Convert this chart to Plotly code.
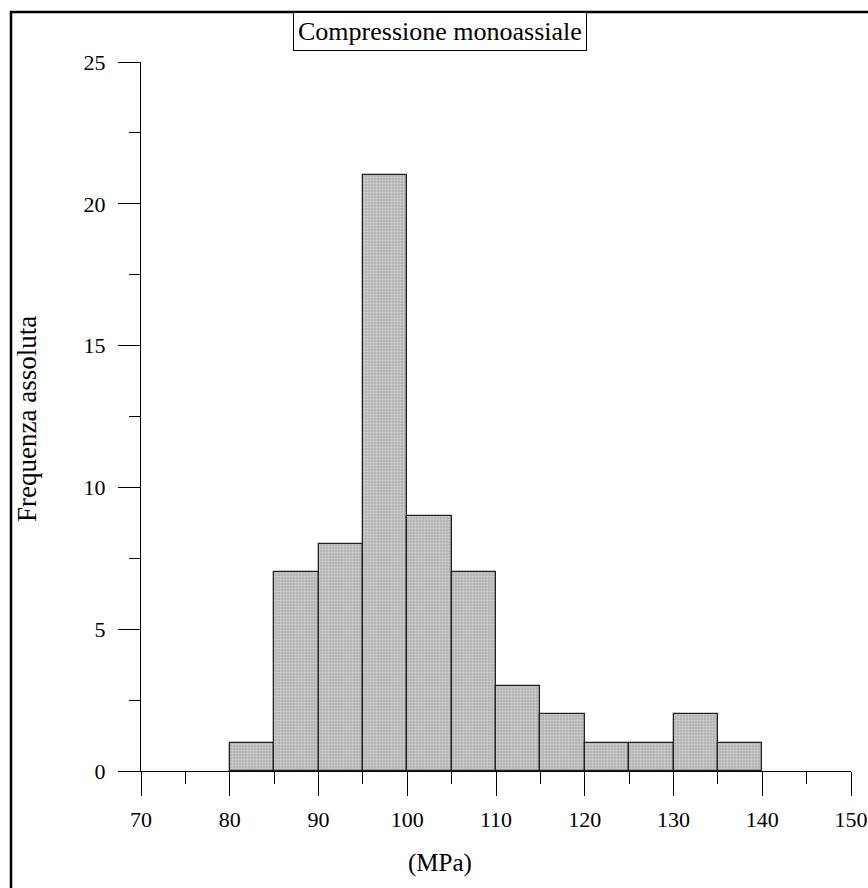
import plotly.graph_objects as go

bin_left = [80, 85, 90, 95, 100, 105, 110, 115, 120, 125, 130, 135]
counts = [1, 7, 8, 21, 9, 7, 3, 2, 1, 1, 2, 1]
bin_width = 5
title_text = "Compressione monoassiale"
x_title = "(MPa)"
y_title = "Frequenza assoluta"

W, H = 868, 888
L, R, T, B = 141, 17, 62, 117
pw, ph = W - L - R, H - T - B

def px2paper_x(p):
    return (p - L) / pw

def px2paper_y(p):
    return (H - B - p) / ph

FONT = "Liberation Serif"

centers = [b + bin_width / 2 for b in bin_left]

fig = go.Figure()
fig.add_trace(go.Bar(
    x=centers, y=counts, width=bin_width,
    marker=dict(
        color="#cfcfcf",
        line=dict(color="#222", width=1.3),
        pattern=dict(shape="+", size=3, solidity=0.3, fgcolor="#f2f2f2", bgcolor="#b4b4b4"),
    ),
    hoverinfo="x+y",
))

fig.update_layout(
    width=W, height=H,
    margin=dict(l=L, r=R, t=T, b=B, autoexpand=False),
    paper_bgcolor="white", plot_bgcolor="white",
    showlegend=False,
    font=dict(family=FONT, color="black", size=22),
    bargap=0,
)
fig.update_xaxes(
    range=[70, 150], dtick=10, tick0=70, automargin=False,
    showline=True, linecolor="black", linewidth=1.2,
    ticks="outside", ticklen=24, tickcolor="black", tickwidth=1.2,
    showgrid=False, zeroline=False,
    tickfont=dict(family=FONT, size=22), ticklabelstandoff=4,
    minor=dict(dtick=5, tick0=70, ticks="outside", ticklen=12, tickcolor="black", tickwidth=1.2, showgrid=False),
)
fig.update_yaxes(
    range=[0, 25], dtick=5, tick0=0, automargin=False,
    showline=True, linecolor="black", linewidth=1.2,
    ticks="outside", ticklen=22, tickcolor="black", tickwidth=1.2,
    showgrid=False, zeroline=False,
    tickfont=dict(family=FONT, size=22), ticklabelstandoff=8,
    minor=dict(dtick=2.5, tick0=0, ticks="outside", ticklen=11, tickcolor="black", tickwidth=1.2, showgrid=False),
)

# outer frame
fig.add_shape(type="rect", xref="paper", yref="paper",
              x0=px2paper_x(11), x1=px2paper_x(900),
              y0=px2paper_y(920), y1=px2paper_y(12),
              line=dict(color="black", width=2.5), fillcolor="rgba(0,0,0,0)", layer="above")

# boxed title
fig.add_annotation(text=title_text, xref="paper", yref="paper",
                   x=px2paper_x(440), y=px2paper_y(12), xanchor="center", yanchor="top",
                   showarrow=False, bordercolor="black", borderwidth=1, borderpad=4,
                   bgcolor="white", font=dict(family=FONT, size=26, color="black"))

fig.add_annotation(text=y_title, xref="paper", yref="paper",
                   x=px2paper_x(27), y=px2paper_y(419), xanchor="center", yanchor="middle",
                   textangle=-90, showarrow=False, font=dict(family=FONT, size=27, color="black"))

fig.add_annotation(text=x_title, xref="paper", yref="paper",
                   x=px2paper_x(440), y=px2paper_y(863), xanchor="center", yanchor="middle",
                   showarrow=False, font=dict(family=FONT, size=25, color="black"))

fig.write_html("out.html")
